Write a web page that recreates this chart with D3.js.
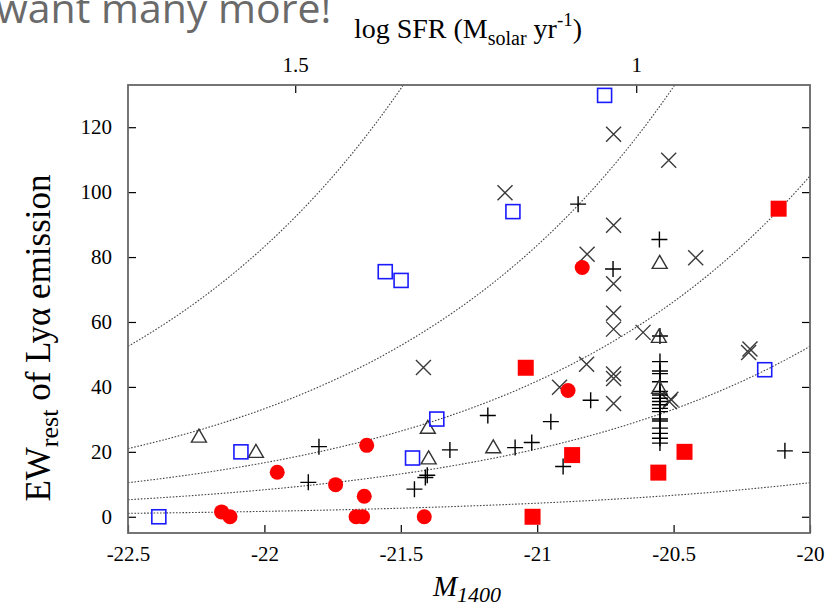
<!DOCTYPE html>
<html>
<head>
<meta charset="utf-8">
<script src="https://cdn.jsdelivr.net/npm/d3@7"></script>
<style>
  html, body { margin: 0; padding: 0; background: #fff; }
  svg { display: block; }
  .tick text { font-family: "Liberation Serif", "Times New Roman", serif; font-size: 21px; fill: #000; }
  .tick line { stroke: #000; stroke-width: 1.2; }
</style>
</head>
<body>
<svg id="chart" width="827" height="607"></svg>
<script>
// Absolute UV magnitude (M1400) vs rest-frame Lyα equivalent width
const mTicks = [-22.5, -22, -21.5, -21, -20.5, -20];
const ewTicks = [0, 20, 40, 60, 80, 100, 120];
const sfrTicks = [1.5, 1];

// constant Lyα-luminosity tracks, in units of the faintest one
const lyaLevels = [1, 5, 10, 20, 50];
const lyaBaseEW = 1.05;   // EW of the unit track at M = -22.5

// [M1400, EW]
const redCircles = [
  [-22.157, 1.5], [-22.126, 0], [-21.953, 13.7], [-21.739, 9.9], [-21.625, 22],
  [-21.634, 6.3], [-21.664, 0], [-21.640, 0], [-21.414, 0], [-20.887, 38.9], [-20.835, 76.8]
];
const redSquares = [
  [-21.042, 45.9], [-20.872, 19], [-20.46, 20], [-20.556, 13.6], [-21.017, 0], [-20.115, 94.9]
];
const blueSquares = [
  [-22.387, 0], [-22.086, 20], [-21.368, 30.1], [-21.457, 18.1], [-21.557, 75.5],
  [-21.499, 72.8], [-20.753, 129.8], [-21.089, 94], [-20.166, 45.3]
];
const triangles = [
  [-22.24, 24.7], [-22.031, 20], [-21.401, 27.4], [-21.398, 18], [-21.161, 21.4],
  [-20.554, 55.4], [-20.551, 78.2], [-20.553, 39.7]
];
const crosses = [
  [-21.417, 46], [-20.72, 117.8], [-20.518, 109.8], [-21.118, 99.8], [-20.72, 89.8],
  [-20.419, 79.8], [-20.817, 80.9], [-20.72, 71.8], [-20.72, 62.7], [-20.72, 57.8],
  [-20.612, 56.8], [-20.819, 47], [-20.918, 39.9], [-20.72, 44], [-20.72, 42.6],
  [-20.72, 34.9], [-20.22, 51.7], [-20.225, 50.6], [-20.51, 36.2], [-20.515, 35.4]
];
const pluses = [
  [-21.80, 21.6], [-21.839, 10.6], [-21.45, 8.5], [-21.403, 12.8], [-21.41, 12.1],
  [-21.32, 20.6], [-21.181, 31.2], [-21.081, 21.3], [-21.02, 22.9], [-20.95, 29.3],
  [-20.905, 15.5], [-20.804, 35.9], [-20.092, 20.3], [-20.85, 96.3], [-20.552, 85.4],
  [-20.722, 76.3],
  [-20.55, 55.7], [-20.55, 47.8], [-20.55, 44.9], [-20.55, 44.1], [-20.55, 41.6],
  [-20.55, 38.6], [-20.55, 37.5], [-20.55, 36.5], [-20.55, 35.5], [-20.55, 34.5],
  [-20.55, 33.4], [-20.55, 32.4], [-20.55, 30.1], [-20.55, 29.5], [-20.55, 27.3],
  [-20.55, 25.7], [-20.55, 24.2], [-20.55, 22.7]
];

const svg = d3.select("#chart");
const plot = { left: 128, right: 810, top: 85, bottom: 533 };

const x = d3.scaleLinear().domain([-22.5, -20]).range([plot.left, plot.right]);
const y = d3.scaleLinear().domain([-5, 133]).range([plot.bottom, plot.top]);
// log SFR follows the UV luminosity: logSFR = 1 - 0.4 (M + 20.637)
const toSFR = m => 1 - 0.4 * (m + 20.637);
const xTop = d3.scaleLinear().domain([toSFR(-22.5), toSFR(-20)]).range([plot.left, plot.right]);

// slide heading remnant
svg.append("text")
  .attr("x", -4).attr("y", 23)
  .attr("font-family", "'Open Sans', sans-serif")
  .attr("font-size", 41)
  .attr("fill", "#6a6a6a")
  .text("want many more!");

svg.append("clipPath").attr("id", "plotClip")
  .append("rect")
  .attr("x", plot.left).attr("y", plot.top)
  .attr("width", plot.right - plot.left).attr("height", plot.bottom - plot.top);

// Lyα luminosity tracks
const trackM = d3.range(-22.5, -19.99, 0.01);
const trackLine = d3.line().x(d => x(d[0])).y(d => y(d[1]));
svg.append("g").attr("clip-path", "url(#plotClip)")
  .selectAll("path").data(lyaLevels).join("path")
  .attr("d", k => trackLine(trackM.map(m => [m, lyaBaseEW * k * Math.pow(10, 0.4 * (m + 22.5))])))
  .attr("fill", "none")
  .attr("stroke", "#444")
  .attr("stroke-width", 1.1)
  .attr("stroke-dasharray", "1.6,1.6");

// axes (ticks point inward)
const fmt = d => String(d);
svg.append("g").attr("transform", `translate(0,${plot.bottom})`)
  .call(d3.axisBottom(x).tickValues(mTicks).tickSize(-8).tickPadding(13).tickFormat(fmt))
  .call(g => g.select(".domain").remove());
svg.append("g").attr("transform", `translate(${plot.left},0)`)
  .call(d3.axisLeft(y).tickValues(ewTicks).tickSize(-8).tickPadding(16).tickFormat(fmt))
  .call(g => g.select(".domain").remove());
svg.append("g").attr("transform", `translate(${plot.right},0)`)
  .call(d3.axisRight(y).tickValues(ewTicks).tickSize(-8).tickFormat(""))
  .call(g => g.select(".domain").remove());
svg.append("g").attr("transform", `translate(0,${plot.top})`)
  .call(d3.axisTop(xTop).tickValues(sfrTicks).tickSize(-8).tickPadding(13).tickFormat(fmt))
  .call(g => g.select(".domain").remove());

svg.selectAll(".tick text").attr("font-family", null).attr("font-size", null);

// frame
svg.append("rect")
  .attr("x", plot.left).attr("y", plot.top)
  .attr("width", plot.right - plot.left).attr("height", plot.bottom - plot.top)
  .attr("fill", "none").attr("stroke", "#666").attr("stroke-width", 1.8);

// data markers
const marks = svg.append("g");
const h = 7.5;

marks.append("g").selectAll("path").data(crosses).join("path")
  .attr("d", d => {
    const cx = x(d[0]), cy = y(d[1]);
    return `M${cx - h},${cy - h}L${cx + h},${cy + h}M${cx - h},${cy + h}L${cx + h},${cy - h}`;
  })
  .attr("stroke", "#3a3a3a").attr("stroke-width", 1.4).attr("fill", "none");

marks.append("g").selectAll("path").data(pluses).join("path")
  .attr("d", d => {
    const cx = x(d[0]), cy = y(d[1]);
    return `M${cx - 8},${cy}L${cx + 8},${cy}M${cx},${cy - 8}L${cx},${cy + 8}`;
  })
  .attr("stroke", "#000").attr("stroke-width", 1.4).attr("fill", "none");

marks.append("g").selectAll("path").data(triangles).join("path")
  .attr("d", d => {
    const cx = x(d[0]), cy = y(d[1]);
    return `M${cx},${cy - 7.5}L${cx + 7.5},${cy + 5.5}L${cx - 7.5},${cy + 5.5}Z`;
  })
  .attr("stroke", "#333").attr("stroke-width", 1.4).attr("fill", "none");

marks.append("g").selectAll("rect").data(blueSquares).join("rect")
  .attr("x", d => x(d[0]) - 7).attr("y", d => y(d[1]) - 7)
  .attr("width", 14).attr("height", 14)
  .attr("fill", "none").attr("stroke", "#1a1aff").attr("stroke-width", 1.6);

marks.append("g").selectAll("rect").data(redSquares).join("rect")
  .attr("x", d => x(d[0]) - 8).attr("y", d => y(d[1]) - 8)
  .attr("width", 16).attr("height", 16)
  .attr("fill", "#ff0000");

marks.append("g").selectAll("circle").data(redCircles).join("circle")
  .attr("cx", d => x(d[0])).attr("cy", d => y(d[1]))
  .attr("r", 7.5)
  .attr("fill", "#ff0000");

// axis titles
const serif = "'Liberation Serif', 'Times New Roman', serif";

const topTitle = svg.append("text")
  .attr("x", 468).attr("y", 38)
  .attr("text-anchor", "middle")
  .attr("font-family", serif).attr("font-size", 28);
topTitle.append("tspan").text("log SFR (M");
topTitle.append("tspan").attr("font-size", 20).attr("dy", 7).text("solar");
topTitle.append("tspan").attr("dy", -7).text(" yr");
topTitle.append("tspan").attr("font-size", 19).attr("dy", -12).text("-1");
topTitle.append("tspan").attr("dy", 12).text(")");

const yTitle = svg.append("text")
  .attr("transform", "translate(50,338) rotate(-90)")
  .attr("text-anchor", "middle")
  .attr("font-family", serif).attr("font-size", 35);
yTitle.append("tspan").text("EW");
yTitle.append("tspan").attr("font-size", 26).attr("dy", 8).text("rest");
yTitle.append("tspan").attr("dy", -8).text(" of Ly\u03b1 emission");

const xTitle = svg.append("text")
  .attr("x", 467).attr("y", 596)
  .attr("text-anchor", "middle")
  .attr("font-family", serif).attr("font-style", "italic").attr("font-size", 29);
xTitle.append("tspan").text("M");
xTitle.append("tspan").attr("font-size", 22).attr("dy", 6).text("1400");
</script>
</body>
</html>
